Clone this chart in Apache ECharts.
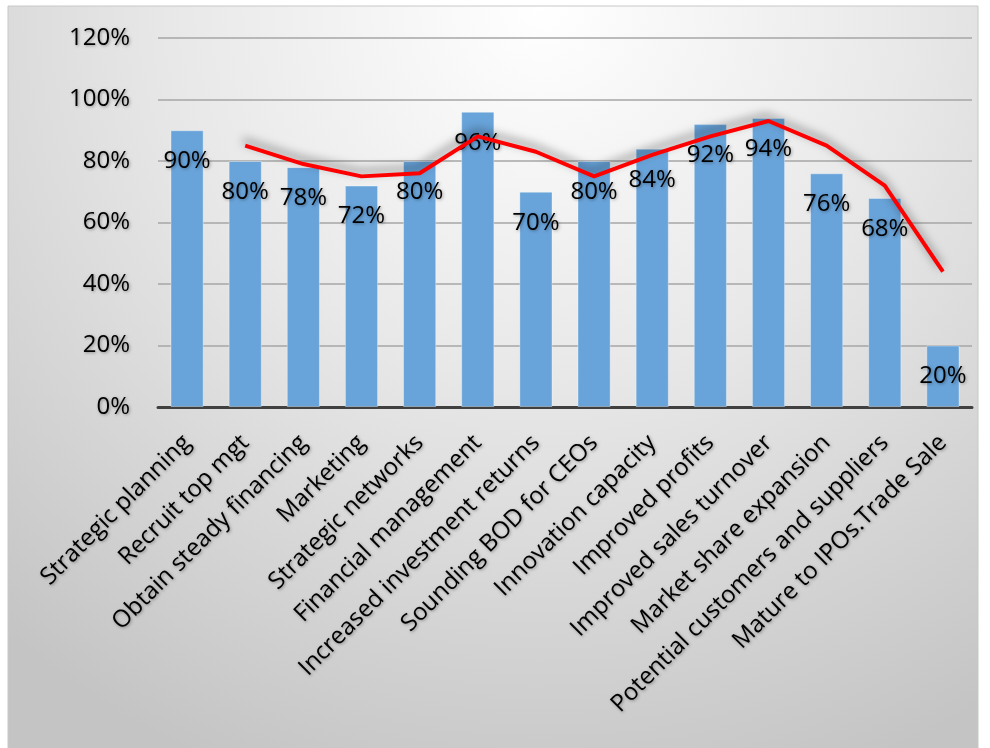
<!DOCTYPE html>
<html>
<head>
<meta charset="utf-8">
<script src="https://cdn.jsdelivr.net/npm/echarts@6/dist/echarts.min.js"></script>
<style>
    html, body { margin: 0; padding: 0; background: #fff; }
    #chart { width: 990px; height: 748px; }
</style>
</head>
<body>
<div id="chart"></div>
<script>
// ================* DATA *
var categories = ['Strategic planning', 'Recruit top mgt', 'Obtain steady financing', 'Marketing',
    'Strategic networks', 'Financial management', 'Increased investment returns', 'Sounding BOD for CEOs',
    'Innovation capacity', 'Improved profits', 'Improved sales turnover', 'Market share expansion',
    'Potential customers and suppliers', 'Mature to IPOs.Trade Sale'];
var barValues = [90, 80, 78, 72, 80, 96, 70, 80, 84, 92, 94, 76, 68, 20];
// trend line (first category has no point)
var trendValues = [null, 85, 79, 75, 76, 88, 83, 75, 82, 88, 93, 85, 72, 44];
var yTicks = [0, 20, 40, 60, 80, 100, 120];

var textFont = '"Open Sans", sans-serif';

function drawChart() {
    var chart = echarts.init(document.getElementById('chart'));
    chart.clear();
    option1 = {
        animation: false,
        graphic: [{
            type: 'rect',
            z: -10,
            silent: true,
            shape: { x: 8, y: 6, width: 970, height: 750 },
            style: {
                fill: new echarts.graphic.RadialGradient(0.55, 0, 1.1, [
                    { offset: 0, color: '#ffffff' },
                    { offset: 0.45, color: '#e8e8e8' },
                    { offset: 1, color: '#c4c4c4' }
                ]),
                stroke: '#c8c8c8',
                lineWidth: 1
            }
        }],
        grid: {
            left: 158,
            right: 18,
            top: 38,
            bottom: 341
        },
        xAxis: {
            type: 'category',
            data: categories,
            axisTick: { show: false },
            axisLine: {
                lineStyle: { color: '#404040', width: 3 }
            },
            axisLabel: {
                interval: 0,
                rotate: 45,
                margin: 32,
                fontSize: 24,
                fontFamily: textFont,
                color: '#000',
                textShadowColor: 'rgba(0,0,0,0.35)',
                textShadowBlur: 3,
                textShadowOffsetX: 1,
                textShadowOffsetY: 1
            }
        },
        yAxis: {
            type: 'value',
            min: yTicks[0],
            max: yTicks[yTicks.length - 1],
            interval: 20,
            axisLine: { show: false },
            axisTick: { show: false },
            axisLabel: {
                margin: 28,
                fontSize: 24,
                fontFamily: textFont,
                color: '#000',
                formatter: '{value}%',
                textShadowColor: 'rgba(0,0,0,0.35)',
                textShadowBlur: 3,
                textShadowOffsetX: 1,
                textShadowOffsetY: 1
            },
            splitLine: {
                lineStyle: { color: '#a6a6a6', width: 1.5 }
            }
        },
        series: [{
            name: 'Share',
            type: 'bar',
            barWidth: '57%',
            data: barValues,
            itemStyle: {
                color: '#68a3d9',
                borderColor: 'rgba(255,255,255,0.35)',
                borderWidth: 1
            },
            label: {
                show: true,
                position: 'insideTop',
                distance: 19,
                formatter: '{c}%',
                fontSize: 24,
                fontFamily: textFont,
                color: '#000',
                textShadowColor: 'rgba(0,0,0,0.35)',
                textShadowBlur: 3,
                textShadowOffsetX: 1,
                textShadowOffsetY: 1
            }
        }, {
            name: 'Trend',
            type: 'line',
            data: trendValues,
            symbol: 'none',
            z: 3,
            lineStyle: {
                color: '#ff0000',
                width: 4,
                shadowColor: 'rgba(0,0,0,0.5)',
                shadowBlur: 10,
                shadowOffsetX: -2,
                shadowOffsetY: -5
            }
        }]
    };
    chart.setOption(option1);
}

drawChart();
</script>
</body>
</html>
